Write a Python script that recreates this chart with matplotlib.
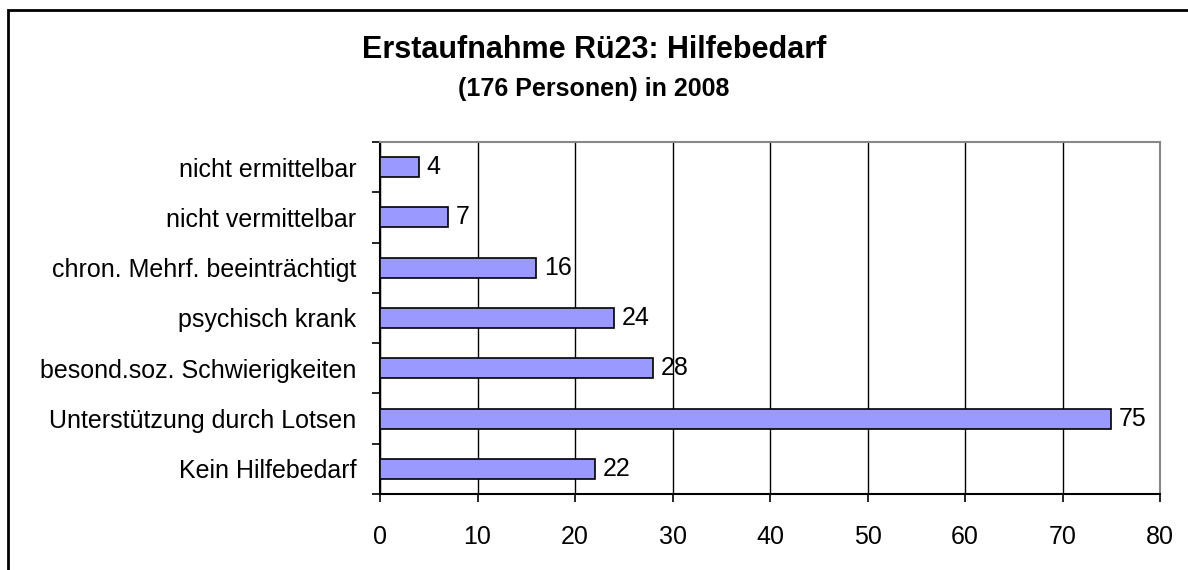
import numpy as np
import matplotlib.pyplot as plt
from matplotlib.patches import Rectangle

plt.rcParams['font.family'] = ['Liberation Sans', 'DejaVu Sans']

# Daten
kategorien = ["Kein Hilfebedarf", "Unterstützung durch Lotsen",
              "besond.soz. Schwierigkeiten", "psychisch krank",
              "chron. Mehrf. beeinträchtigt", "nicht vermittelbar",
              "nicht ermittelbar"]
werte = [22, 75, 28, 24, 16, 7, 4]
x_ticks = [0, 10, 20, 30, 40, 50, 60, 70, 80]

fig = plt.figure(figsize=(11.88, 5.70), dpi=100)
# Rahmen um das ganze Diagramm (rechts/unten abgeschnitten)
fig.patches.append(Rectangle((8 / 1188, -0.1), 1.2, 1 - 10 / 570 + 0.1,
                             transform=fig.transFigure, fill=False,
                             edgecolor='black', linewidth=2))

ax = fig.add_axes([380 / 1188, 1 - 494 / 570, 780 / 1188, 352 / 570])
pos = np.arange(len(kategorien))
ax.barh(pos, werte, height=0.4, color='#9999FF', edgecolor='black',
        linewidth=1.2, zorder=3)
for p, w in zip(pos, werte):
    ax.text(w + 0.8, p, str(w), va='center', ha='left', fontsize=18, zorder=4)

ax.set_xlim(0, 80)
ax.set_ylim(-0.5, len(kategorien) - 0.5)
ax.set_xticks(x_ticks)
ax.set_xticklabels([str(t) for t in x_ticks], fontsize=18)
ax.set_yticks(pos)
ax.set_yticklabels(kategorien, fontsize=18)
ax.set_yticks(np.arange(-0.5, len(kategorien)), minor=True)
ax.tick_params(axis='y', which='major', length=0, pad=17)
ax.tick_params(axis='y', which='minor', length=6, width=1.2, direction='out')
ax.tick_params(axis='x', length=6, width=1.2, direction='out', pad=16)
ax.xaxis.grid(True, color='black', linewidth=1, zorder=0)
ax.set_axisbelow(True)

for s in ['top', 'right']:
    ax.spines[s].set_color('#888888')
    ax.spines[s].set_linewidth(1.5)
for s in ['left', 'bottom']:
    ax.spines[s].set_color('black')
    ax.spines[s].set_linewidth(1.5)

fig.text(0.5, 1 - 50 / 570, "Erstaufnahme Rü23: Hilfebedarf", ha='center',
         va='center', fontsize=22, fontweight='bold')
fig.text(0.5, 1 - 89 / 570, "(176 Personen) in 2008", ha='center',
         va='center', fontsize=18, fontweight='bold')

fig.savefig("out.png", dpi=100)
